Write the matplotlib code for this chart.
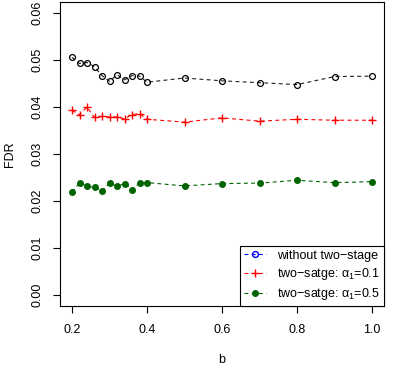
import matplotlib
matplotlib.use("Agg")
import matplotlib.pyplot as plt
from matplotlib.lines import Line2D

plt.rcParams['font.family'] = ['Liberation Sans', 'DejaVu Sans']
plt.rcParams['mathtext.fontset'] = 'custom'
plt.rcParams['mathtext.rm'] = 'Liberation Sans'
plt.rcParams['mathtext.it'] = 'Liberation Sans'

b = [0.20, 0.22, 0.24, 0.26, 0.28, 0.30, 0.32, 0.34, 0.36, 0.38, 0.40,
     0.5, 0.6, 0.7, 0.8, 0.9, 1.0]
fdr_without = [0.0506, 0.0493, 0.0495, 0.0486, 0.0467, 0.0455, 0.0469, 0.0458,
               0.0467, 0.0466, 0.0453, 0.0462, 0.0456, 0.0452, 0.0448, 0.0465, 0.0466]
fdr_a01 = [0.0393, 0.0384, 0.0400, 0.0378, 0.0380, 0.0379, 0.0379, 0.0375,
           0.0384, 0.0386, 0.0374, 0.0368, 0.0377, 0.0370, 0.0374, 0.0372, 0.0372]
fdr_a05 = [0.0219, 0.0239, 0.0231, 0.0229, 0.0221, 0.0238, 0.0231, 0.0237,
           0.0224, 0.0238, 0.0239, 0.0232, 0.0237, 0.0238, 0.0244, 0.0239, 0.0241]

xticks = [0.2, 0.4, 0.6, 0.8, 1.0]
xtick_labels = ['0.2', '0.4', '0.6', '0.8', '1.0']
yticks = [0.00, 0.01, 0.02, 0.03, 0.04, 0.05, 0.06]
ytick_labels = ['0.00', '0.01', '0.02', '0.03', '0.04', '0.05', '0.06']
legend_labels = ['without two\u2212stage',
                 'two\u2212satge: $\\alpha_1$=0.1',
                 'two\u2212satge: $\\alpha_1$=0.5']

W, H = 399, 367
fig = plt.figure(figsize=(W / 100, H / 100), dpi=100)
L, R, T, B = 60, 384, 2, 306
ax = fig.add_axes([L / W, (H - B) / H, (R - L) / W, (B - T) / H])

dash = (0, (3.5, 3))
ax.plot(b, fdr_without, color='#202020', linestyle=dash, linewidth=0.8,
        marker='o', markersize=4.2, markerfacecolor='none', markeredgecolor='black',
        markeredgewidth=0.9)
ax.plot(b, fdr_a01, color='red', linestyle=dash, linewidth=0.8,
        marker='+', markersize=6, markeredgewidth=1.0)
ax.plot(b, fdr_a05, color='#006400', linestyle=dash, linewidth=0.8,
        marker='o', markersize=4, markerfacecolor='#006400', markeredgecolor='#006400')

ax.set_xlim(0.168, 1.032)
ax.set_ylim(-0.0024, 0.0624)
ax.set_xticks(xticks)
ax.set_xticklabels(xtick_labels)
ax.set_yticks(yticks)
ax.set_yticklabels(ytick_labels, rotation=90, va='center')
ax.tick_params(axis='both', direction='out', length=5, width=0.8, labelsize=9, color='black')
ax.tick_params(axis='x', pad=8)
ax.tick_params(axis='y', pad=7)
for s in ax.spines.values():
    s.set_linewidth(0.8)
    s.set_color('black')

ax.set_xlabel('b', fontsize=9, labelpad=13)
ax.set_ylabel('FDR', fontsize=9, labelpad=11)

handles = [
    Line2D([], [], color='blue', linestyle=dash, linewidth=0.8, marker='o', markersize=4.2,
           markerfacecolor='none', markeredgecolor='blue'),
    Line2D([], [], color='red', linestyle=dash, linewidth=0.8, marker='+', markersize=6),
    Line2D([], [], color='#006400', linestyle=dash, linewidth=0.8, marker='o', markersize=4,
           markerfacecolor='#006400'),
]
leg = ax.legend(handles, legend_labels, loc='lower right', fontsize=9, frameon=True,
                fancybox=False, framealpha=1, edgecolor='black', borderaxespad=0,
                handlelength=1.8, handletextpad=0.9, labelspacing=0.35, borderpad=0.3)
leg.get_frame().set_linewidth(0.8)

fig.savefig('out.png', dpi=100)
